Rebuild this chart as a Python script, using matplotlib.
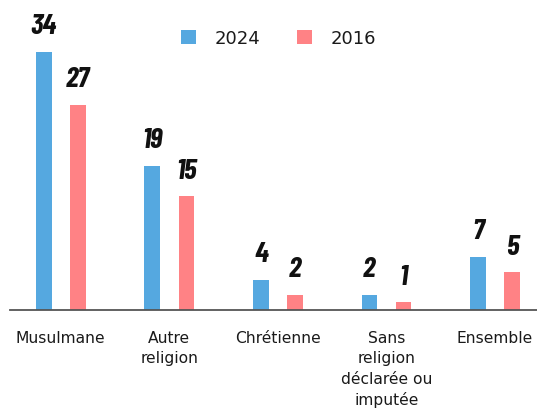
import matplotlib
matplotlib.use("Agg")
import matplotlib.pyplot as plt
from matplotlib.patches import Patch
import numpy as np

categories = ["Musulmane", "Autre\nreligion", "Chrétienne",
              "Sans\nreligion\ndéclarée ou\nimputée", "Ensemble"]
values_2024 = [34, 19, 4, 2, 7]
values_2016 = [27, 15, 2, 1, 5]
series_labels = ["2024", "2016"]

BLUE = "#55A8E0"
PINK = "#FF8285"
TEXT_FONT = ["DejaVu Sans"]
NUM_FONT = ["Barlow Condensed", "DejaVu Sans"]

W, H = 537, 408
fig = plt.figure(figsize=(W / 100, H / 100), dpi=100)
ax = fig.add_axes([10 / W, 98 / H, 1 - 10 / W, 304 / H])

x = np.arange(len(categories))
bw = 0.145
off = 0.157
b1 = ax.bar(x - off, values_2024, width=bw, color=BLUE, zorder=2)
b2 = ax.bar(x + off, values_2016, width=bw, color=PINK, zorder=2)

for bars, vals in ((b1, values_2024), (b2, values_2016)):
    for rect, v in zip(bars, vals):
        ax.annotate(str(v), xy=(rect.get_x() + rect.get_width() / 2, v),
                    xytext=(0, 12.5), textcoords="offset points",
                    ha="center", va="baseline", fontsize=21,
                    fontweight="bold", fontstyle="italic",
                    family=NUM_FONT, color="#111111")

ax.set_xlim(-0.468, 4.387)
ax.set_ylim(0, 40)
ax.set_xticks(x)
ax.set_xticklabels(categories, family=TEXT_FONT, fontsize=11.2,
                   color="#1a1a1a", linespacing=1.45)
ax.tick_params(axis="x", length=0, pad=15.0)
ax.set_yticks([])
for s in ("left", "right", "top"):
    ax.spines[s].set_visible(False)
ax.spines["bottom"].set_color("#555555")
ax.spines["bottom"].set_linewidth(1.3)
ax.spines["bottom"].set_zorder(3)

handles = [Patch(facecolor=BLUE, edgecolor="none"),
           Patch(facecolor=PINK, edgecolor="none")]
leg = fig.legend(handles, series_labels, loc="center",
                 bbox_to_anchor=(278.4 / W, 1 - 38.5 / H), ncol=2,
                 frameon=False, handlelength=0.83, handleheight=0.83,
                 handletextpad=1.05, columnspacing=2.0, borderpad=0,
                 prop={"family": TEXT_FONT, "size": 13})
for t in leg.get_texts():
    t.set_color("#1a1a1a")

fig.savefig("out.png", dpi=100)
